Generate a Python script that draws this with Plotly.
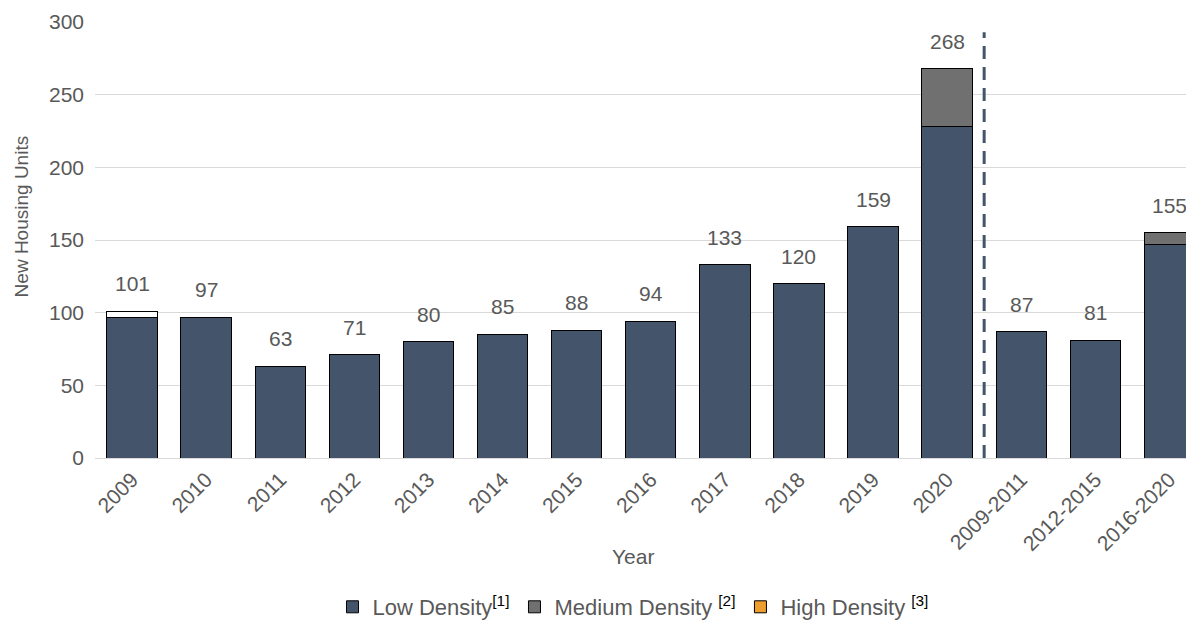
import plotly.graph_objects as go

# categories and values
years = ["2009", "2010", "2011", "2012", "2013", "2014", "2015", "2016",
         "2017", "2018", "2019", "2020"]
periods = ["2009-2011", "2012-2015", "2016-2020"]
categories = years + periods

low_density = [97, 97, 63, 71, 80, 85, 88, 94, 133, 120, 159, 228, 87, 81, 147]
medium_density = [0, 0, 0, 0, 0, 0, 0, 0, 0, 0, 0, 40, 0, 0, 8]
high_density = [0] * len(categories)
# 2009 has a few extra units drawn as an unfilled box in the source
unlabelled = [4, 0, 0, 0, 0, 0, 0, 0, 0, 0, 0, 0, 0, 0, 0]
totals = [a + b + c + d for a, b, c, d in
          zip(low_density, medium_density, high_density, unlabelled)]

y_ticks = [0, 50, 100, 150, 200, 250, 300]

LOW_COLOR = "#44546A"
MED_COLOR = "#707070"
HIGH_COLOR = "#EE9E2E"
TEXT_COLOR = "#595959"
FONT = "Liberation Sans, Arial, sans-serif"
DIVIDER_TOP = 293
BAR_W = 0.68

sup = "<sup><span style='color:#000000'>{}</span></sup>"
outline = dict(color="#000000", width=1)

fig = go.Figure()
fig.add_trace(go.Bar(
    x=categories, y=low_density,
    name="Low Density" + sup.format("[1]"),
    marker=dict(color=LOW_COLOR, line=outline), width=BAR_W,
))
fig.add_trace(go.Bar(
    x=categories, y=medium_density,
    name="Medium Density " + sup.format("[2]"),
    marker=dict(color=MED_COLOR, line=outline), width=BAR_W,
))
fig.add_trace(go.Bar(
    x=categories, y=high_density,
    name="High Density " + sup.format("[3]"),
    marker=dict(color=HIGH_COLOR, line=outline), width=BAR_W,
))
fig.add_trace(go.Bar(
    x=categories, y=unlabelled, showlegend=False,
    marker=dict(color="#FFFFFF", line=outline), width=BAR_W,
))

# total labels above each stack
for i, tot in enumerate(totals):
    fig.add_annotation(
        x=i, y=tot, text=str(tot), showarrow=False,
        yanchor="bottom", yshift=14,
        font=dict(size=21, color=TEXT_COLOR, family=FONT),
    )

# axis titles placed like the source
fig.add_annotation(
    xref="paper", yref="paper", x=-0.066, y=0.554, text="New Housing Units",
    textangle=-90, showarrow=False, xanchor="center", yanchor="middle",
    font=dict(size=19, color=TEXT_COLOR, family=FONT),
)
fig.add_annotation(
    xref="paper", yref="paper", x=0.486, y=-0.2265, text="Year",
    showarrow=False, xanchor="center", yanchor="middle",
    font=dict(size=21, color=TEXT_COLOR, family=FONT),
)

# dashed divider between yearly values and period averages
fig.add_shape(
    type="line", xref="x", yref="y",
    x0=len(years) - 0.5, x1=len(years) - 0.5, y0=0, y1=DIVIDER_TOP,
    line=dict(color=LOW_COLOR, width=3, dash="13px,8px"),
)

fig.update_layout(
    barmode="stack",
    width=1194, height=620,
    margin=dict(l=87, r=0, t=14, b=169),
    plot_bgcolor="#FFFFFF", paper_bgcolor="#FFFFFF",
    font=dict(family=FONT, size=21, color=TEXT_COLOR),
    legend=dict(
        orientation="h", x=0.486, xanchor="center", y=-0.341, yanchor="middle",
        font=dict(size=22, color=TEXT_COLOR), itemwidth=30,
        traceorder="normal",
    ),
)
fig.update_xaxes(
    type="category", automargin=False,
    range=[-0.5, len(categories) - 0.56],
    tickangle=-45, tickfont=dict(size=21, color=TEXT_COLOR),
    showline=True, linecolor="#D9D9D9", linewidth=1,
    showgrid=False, ticks="",
)
fig.update_yaxes(
    automargin=False,
    range=[0, 300], tickvals=y_ticks,
    tickfont=dict(size=21, color=TEXT_COLOR),
    showgrid=True, gridcolor="#D9D9D9", gridwidth=1,
    zeroline=False, ticks="", ticklabelstandoff=10,
)

fig.write_html("out.html")
